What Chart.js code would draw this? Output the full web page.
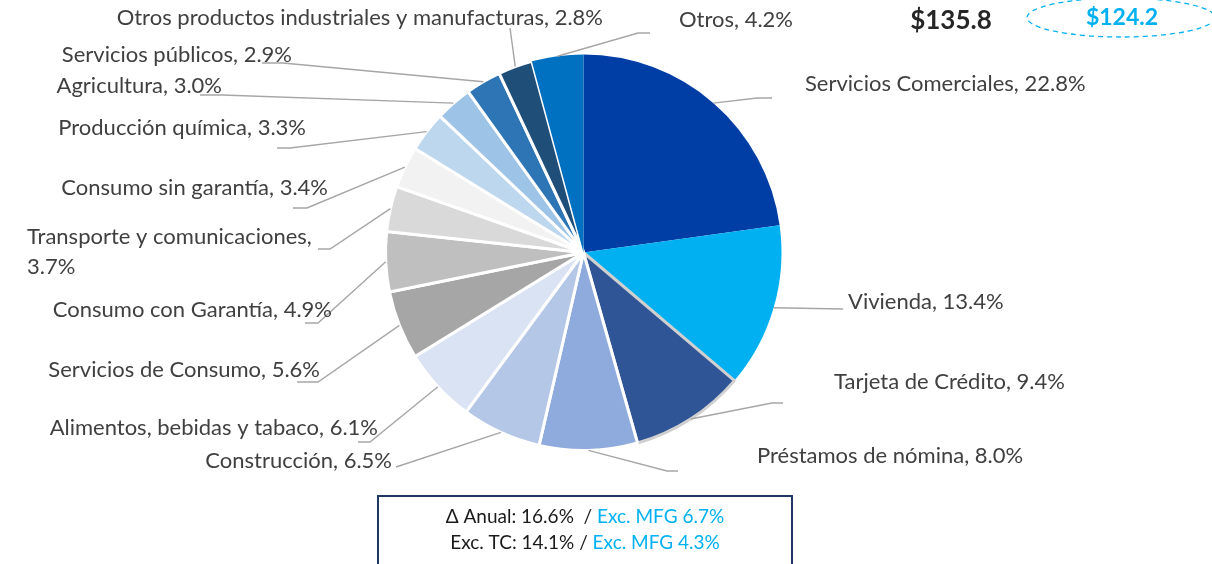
<!DOCTYPE html>
<html>
<head>
<meta charset="utf-8">
<script src="https://cdn.jsdelivr.net/npm/chart.js@4.4.1/dist/chart.umd.min.js"></script>
<style>
html,body{margin:0;padding:0;background:#fff;}
#wrap{width:1212px;height:564px;position:relative;}
</style>
</head>
<body>
<div id="wrap"><canvas id="c" width="1212" height="564"></canvas></div>
<script>
// ---- data ----
const categories = [
  'Servicios Comerciales', 'Vivienda', 'Tarjeta de Crédito', 'Préstamos de nómina',
  'Construcción', 'Alimentos, bebidas y tabaco', 'Servicios de Consumo',
  'Consumo con Garantía', 'Transporte y comunicaciones', 'Consumo sin garantía',
  'Producción química', 'Agricultura', 'Servicios públicos',
  'Otros productos industriales y manufacturas', 'Otros'
];
const values = [22.8, 13.4, 9.4, 8.0, 6.5, 6.1, 5.6, 4.9, 3.7, 3.4, 3.3, 3.0, 2.9, 2.8, 4.2];
const totalCurrent = '$135.8';
const totalPrevious = '$124.2';
const noteLine1 = ['Δ Anual: 16.6%  / ', 'Exc. MFG 6.7%'];
const noteLine2 = ['Exc. TC: 14.1% / ', 'Exc. MFG 4.3%'];

// ---- styles ----
const fillColors = ['#003DA5', '#00B0F0', '#2F5597', '#8FAADC', '#B4C7E7', '#DAE3F3',
  '#A6A6A6', '#BFBFBF', '#D9D9D9', '#F2F2F2', '#BDD7EE', '#9DC3E6', '#2E75B6', '#1F4E79', '#0070C0'];
const borderColors = ['#003DA5', '#00B0F0', '#D0D0D0', '#fff', '#fff', '#fff', '#fff', '#fff',
  '#fff', '#fff', '#fff', '#fff', '#fff', '#fff', '#0070C0'];
const borderWidths = [0, 0, 3, 3, 3, 3, 3, 3, 3, 3, 3, 3, 3, 3, 0];

// label layout: text anchor (x,y,align), elbow point, horizontal end
const labelLayout = [
  {tx: 805, ty: 84, align: 'left', ex: 757, ey: 98, hx: 772},
  {tx: 848, ty: 302, align: 'left', ex: 843, ey: 309},
  {tx: 834, ty: 382, align: 'left', ex: 772, ey: 403, hx: 783},
  {tx: 757, ty: 456, align: 'left', ex: 667, ey: 471, hx: 678},
  {tx: 392, ty: 461, align: 'right', ex: 396, ey: 467},
  {tx: 378, ty: 428, align: 'right', ex: 370, ey: 442, hx: 358},
  {tx: 320, ty: 370, align: 'right', ex: 318, ey: 382, hx: 297},
  {tx: 332, ty: 310, align: 'right', ex: 318, ey: 323, hx: 305},
  {tx: 27, ty: 237, align: 'left', ex: 330, ey: 249, hx: 318, wrap: true},
  {tx: 328, ty: 188, align: 'right', ex: 307, ey: 208, hx: 293},
  {tx: 306, ty: 128, align: 'right', ex: 290, ey: 148, hx: 277},
  {tx: 222, ty: 86, align: 'right', ex: 222, ey: 95, hx: 200},
  {tx: 292, ty: 55, align: 'right', ex: 283, ey: 63, hx: 262},
  {tx: 603, ty: 18, align: 'right', ex: 510, ey: 28},
  {tx: 679, ty: 20, align: 'left', ex: 638, ey: 33, hx: 650}
];

const FONT = 'Lato, "Open Sans", sans-serif';

const labelPlugin = {
  id: 'outsideLabels',
  afterDraw(chart) {
    const ctx = chart.ctx;
    const meta = chart.getDatasetMeta(0);
    ctx.save();
    meta.data.forEach((arc, i) => {
      const L = labelLayout[i];
      const mid = (arc.startAngle + arc.endAngle) / 2;
      const px = arc.x + Math.cos(mid) * arc.outerRadius;
      const py = arc.y + Math.sin(mid) * arc.outerRadius;
      ctx.strokeStyle = '#A6A6A6';
      ctx.lineWidth = 1.4;
      ctx.beginPath();
      ctx.moveTo(px, py);
      ctx.lineTo(L.ex, L.ey);
      if (L.hx !== undefined) ctx.lineTo(L.hx, L.ey);
      ctx.stroke();

      ctx.fillStyle = '#404040';
      ctx.font = '22px ' + FONT;
      ctx.textBaseline = 'middle';
      ctx.textAlign = L.align;
      const pct = values[i].toFixed(1) + '%';
      if (L.wrap) {
        ctx.fillText(categories[i] + ',', L.tx, L.ty);
        ctx.fillText(pct, L.tx, L.ty + 30);
      } else {
        ctx.fillText(categories[i] + ', ' + pct, L.tx, L.ty);
      }
    });

    // totals
    ctx.textBaseline = 'middle';
    ctx.textAlign = 'center';
    ctx.fillStyle = '#262626';
    ctx.font = 'bold 26px ' + FONT;
    ctx.fillText(totalCurrent, 951, 21);
    ctx.fillStyle = '#00B0F0';
    ctx.font = 'bold 23px ' + FONT;
    ctx.fillText(totalPrevious, 1122, 18);
    ctx.strokeStyle = '#00B0F0';
    ctx.lineWidth = 1.3;
    ctx.setLineDash([5, 4]);
    ctx.beginPath();
    ctx.ellipse(1121, 17.5, 94, 19.5, 0, 0, Math.PI * 2);
    ctx.stroke();
    ctx.setLineDash([]);

    // note box
    ctx.strokeStyle = '#1F3864';
    ctx.lineWidth = 2;
    ctx.strokeRect(378, 496, 414, 72);
    ctx.font = '19px ' + FONT;
    ctx.textAlign = 'left';
    [[noteLine1, 517], [noteLine2, 543]].forEach(([parts, y]) => {
      const w0 = ctx.measureText(parts[0]).width;
      const w1 = ctx.measureText(parts[1]).width;
      let x = 585 - (w0 + w1) / 2;
      ctx.fillStyle = '#1a1a1a';
      ctx.fillText(parts[0], x, y);
      ctx.fillStyle = '#00B0F0';
      ctx.fillText(parts[1], x + w0, y);
    });
    ctx.restore();
  }
};

new Chart(document.getElementById('c'), {
  type: 'pie',
  data: {
    labels: categories,
    datasets: [{
      data: values,
      backgroundColor: fillColors,
      borderColor: borderColors,
      borderWidth: borderWidths
    }]
  },
  options: {
    responsive: false,
    animation: false,
    devicePixelRatio: 1,
    layout: {padding: {left: 384, right: 429, top: 53, bottom: 112}},
    plugins: {legend: {display: false}, tooltip: {enabled: false}}
  },
  plugins: [labelPlugin]
});
</script>
</body>
</html>
